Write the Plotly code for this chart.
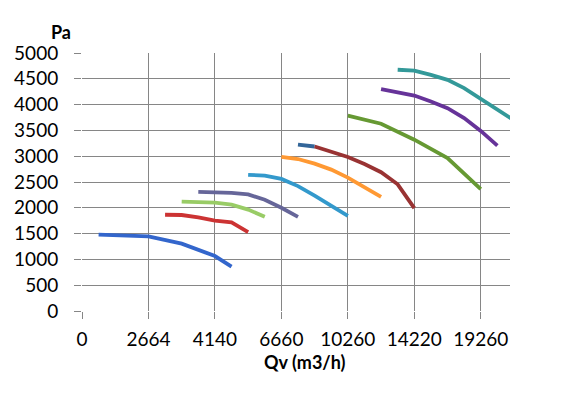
import plotly.graph_objects as go

# x positions are in grid units of the category-like axis (tick i <-> label i)
tick_pos = [0, 1, 2, 3, 4, 5, 6]
tick_labels = ["0", "2664", "4140", "6660", "10260", "14220", "19260"]

s1_x = [0.25, 0.5, 1.0, 1.5, 2.0, 2.25]
s1_y = [1480, 1470, 1445, 1305, 1065, 860]
s2_x = [1.25, 1.5, 1.75, 2.0, 2.25, 2.5]
s2_y = [1865, 1860, 1815, 1752, 1717, 1530]
s3_x = [1.5, 1.75, 2.0, 2.25, 2.5, 2.75]
s3_y = [2120, 2105, 2100, 2060, 1965, 1825]
s4_x = [1.75, 2.0, 2.25, 2.5, 2.75, 3.0, 3.25]
s4_y = [2310, 2305, 2290, 2260, 2155, 2000, 1825]
s5_x = [2.5, 2.75, 3.0, 3.25, 3.5, 3.75, 4.0]
s5_y = [2640, 2625, 2560, 2420, 2235, 2045, 1845]
s6_x = [3.0, 3.25, 3.5, 3.75, 4.0, 4.25, 4.5]
s6_y = [2985, 2945, 2855, 2740, 2585, 2400, 2210]
s7_x = [3.25, 3.5]
s7_y = [3225, 3188]
s8_x = [3.5, 3.75, 4.0, 4.25, 4.5, 4.75, 5.0]
s8_y = [3188, 3090, 2985, 2850, 2690, 2455, 1995]
s9_x = [4.0, 4.5, 5.0, 5.5, 6.0]
s9_y = [3785, 3630, 3320, 2965, 2360]
s10_x = [4.5, 5.0, 5.25, 5.5, 5.75, 6.0, 6.25]
s10_y = [4300, 4175, 4060, 3930, 3740, 3490, 3205]
s11_x = [4.75, 5.0, 5.25, 5.5, 5.75, 6.0, 6.25, 6.5]
s11_y = [4675, 4660, 4575, 4480, 4320, 4110, 3905, 3695]

series = [
    (s1_x, s1_y, "#3366CC"),
    (s2_x, s2_y, "#CC3333"),
    (s3_x, s3_y, "#99CC66"),
    (s4_x, s4_y, "#666699"),
    (s5_x, s5_y, "#3399CC"),
    (s6_x, s6_y, "#FF9933"),
    (s7_x, s7_y, "#336699"),
    (s8_x, s8_y, "#993333"),
    (s9_x, s9_y, "#669933"),
    (s10_x, s10_y, "#663399"),
    (s11_x, s11_y, "#339999"),
]

fig = go.Figure()
for xs, ys, c in series:
    fig.add_trace(go.Scatter(x=xs, y=ys, mode="lines",
                             line=dict(color=c, width=3.8),
                             showlegend=False, hoverinfo="skip"))

font_family = "Lato, 'Open Sans', sans-serif"
fig.update_layout(
    width=580, height=393,
    margin=dict(l=82, r=70, t=53, b=82, autoexpand=False),
    paper_bgcolor="white", plot_bgcolor="white",
    font=dict(family=font_family, size=19, color="#000000"),
    xaxis=dict(range=[0, 6.44], tickvals=tick_pos, ticktext=tick_labels,
               showgrid=True, gridcolor="#868686", gridwidth=1,
               zeroline=False, showline=False, automargin=False,
               ticks="outside", ticklen=7, tickcolor="#868686",
               ticklabelstandoff=4,
               tickfont=dict(size=19)),
    yaxis=dict(range=[0, 5000], dtick=500,
               showgrid=True, gridcolor="#868686", gridwidth=1,
               zeroline=False, showline=False, automargin=False,
               ticks="outside", ticklen=7, tickcolor="#868686",
               ticklabelstandoff=12,
               tickfont=dict(size=19)),
    annotations=[
        dict(text="<b>Pa</b>", xref="paper", yref="paper",
             x=-0.05, y=1.083, xanchor="center", yanchor="middle",
             showarrow=False, font=dict(size=18)),
        dict(text="<b>Qv (m3/h)</b>", xref="paper", yref="paper",
             x=0.52, y=-0.197, xanchor="center", yanchor="middle",
             showarrow=False, font=dict(size=18)),
    ],
)

fig.write_html("out.html", config={"displayModeBar": False},
               post_script="document.body.style.margin='0';")
